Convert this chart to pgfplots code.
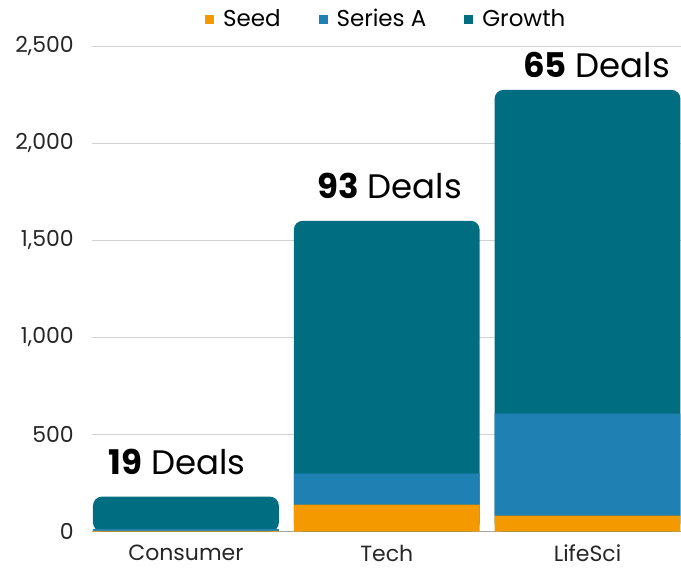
\documentclass[border=0pt]{standalone}
\usepackage{fontspec}
\setmainfont{Poppins}
\usepackage{pgfplots}
\usepackage{pgfplotstable}
\pgfplotsset{compat=1.18}
\definecolor{seed}{HTML}{F49A00}
\definecolor{seriesa}{HTML}{1F80B4}
\definecolor{growth}{HTML}{006E80}
\pgfplotstableread{
x seed seriesa growth
0 4 9 167
1 139 159 1302
2 82 525 1667
}\deals
\pgfplotsset{common/.style={scale only axis, width=589bp, height=486bp,
  xmin=-0.468, xmax=2.463, bar width=186bp}}
\begin{document}
\begin{tikzpicture}
% background axis: grid, ticks, legend
\begin{axis}[
  common, name=ax, ymin=0, ymax=2500,
  xtick={0,1,2}, xticklabels={Consumer,Tech,LifeSci},
  ytick={0,500,...,2500},
  ymajorgrids, major grid style={draw=black!18, line width=0.8bp},
  axis x line*=bottom, axis y line*=left,
  x axis line style={draw=black!35, line width=1bp, -},
  y axis line style={draw=none},
  major tick length=0pt,
  tick label style={font=\fontsize{22bp}{25bp}\selectfont, text=black!85},
  yticklabel style={inner sep=0pt, xshift=-18bp},
  xticklabel style={inner sep=0pt, anchor=north, yshift=-13bp},
  scaled y ticks=false,
  /pgf/number format/1000 sep={,},
  /pgf/number format/assume math mode=true,
  legend style={at={(0.5,1)}, anchor=center, yshift=27bp, draw=none, fill=none,
    legend columns=-1, font=\fontsize{23bp}{27bp}\selectfont,
    /tikz/every even column/.append style={column sep=36bp}},
  legend image code/.code={\fill[#1,draw=none] (0bp,-5bp) rectangle (9bp,4bp); \path[draw=none,fill=none] (9bp,0bp) -- (16bp,0bp);},
]
\addlegendimage{fill=seed}\addlegendentry{Seed}
\addlegendimage{fill=seriesa}\addlegendentry{Series A}
\addlegendimage{fill=growth}\addlegendentry{Growth}
\end{axis}
% growth (rounded top) bars: totals, shifted so the rounded bottom is clipped away
\begin{axis}[common, hide axis, ybar, ymin=300, ymax=2800, clip=true]
\addplot[draw=none, fill=growth, rounded corners=9bp] table[x=x, y expr=\thisrow{seed}+\thisrow{seriesa}+\thisrow{growth}+300] {\deals};
\end{axis}
% seed and series A
\begin{axis}[common, hide axis, ybar stacked, ymin=0, ymax=2500, clip=false]
\addplot[draw=none, fill=seed] table[x=x, y=seed] {\deals};
\addplot[draw=none, fill=seriesa] table[x=x, y=seriesa] {\deals};
\node[anchor=base, font=\fontsize{34bp}{38bp}\selectfont, xshift=-9bp, yshift=22bp] at (axis cs:0,180) {\textbf{19} Deals};
\node[anchor=base, font=\fontsize{34bp}{38bp}\selectfont, xshift=3bp, yshift=22bp] at (axis cs:1,1600) {\textbf{93} Deals};
\node[anchor=base, font=\fontsize{34bp}{38bp}\selectfont, xshift=9bp, yshift=12bp] at (axis cs:2,2274) {\textbf{65} Deals};
\end{axis}
\path ([shift={(-92bp,-37bp)}]ax.south west) rectangle ([shift={(0bp,46bp)}]ax.north east);
\end{tikzpicture}
\end{document}
